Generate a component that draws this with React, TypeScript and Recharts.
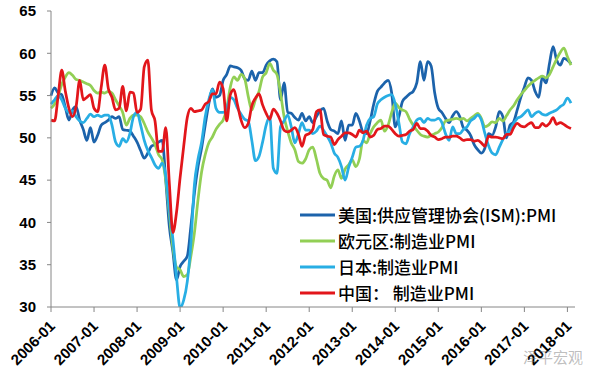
import React from "react";
import { LineChart, Line, XAxis, YAxis, Legend } from "recharts";

// 2006-01 .. 2018-02, monthly
const startYear = 2006;
const monthCount = 146;
const months: string[] = Array.from({ length: monthCount }, (_, i) => {
  const y = startYear + Math.floor(i / 12);
  const m = (i % 12) + 1;
  return `${y}-${m < 10 ? "0" + m : m}`;
});

const yearTicks = [
  "2006-01", "2007-01", "2008-01", "2009-01", "2010-01", "2011-01", "2012-01",
  "2013-01", "2014-01", "2015-01", "2016-01", "2017-01", "2018-01",
];
const yTicks = [30, 35, 40, 45, 50, 55, 60, 65];

const seriesNames = [
  "美国:供应管理协会(ISM):PMI",
  "欧元区:制造业PMI",
  "日本:制造业PMI",
  "中国： 制造业PMI",
];

// 美国:供应管理协会(ISM):PMI
const usIsm = [
  55.0, 55.9, 55.3, 55.1, 53.6, 52.1, 53.3, 53.7, 52.1, 51.0, 49.7, 51.2,
  49.5, 50.3, 51.5, 51.8, 52.1, 52.5, 52.3, 52.5, 51.0, 50.9, 50.8, 50.2,
  49.5, 48.5, 47.6, 48.2, 49.0, 49.2, 49.5, 49.7, 45.0, 39.5, 36.5, 33.2,
  34.8, 35.4, 36.0, 39.5, 43.5, 46.6, 48.8, 51.5, 54.0, 55.8, 54.8, 55.0,
  56.8, 57.5, 58.5, 58.4, 58.3, 58.0, 57.0, 56.8, 57.9, 56.8, 57.7, 57.7,
  58.6, 59.1, 59.3, 59.0, 54.5, 56.5, 53.0, 52.9, 52.4, 52.1, 52.9, 52.0,
  52.5, 51.8, 52.5, 53.2, 53.5, 52.0, 51.0, 50.8, 50.5, 52.0, 49.7, 51.5,
  51.5, 52.9, 52.0, 50.7, 50.5, 52.0, 54.0, 55.5, 56.0, 56.5, 56.8, 55.3,
  51.3, 52.5, 54.3, 54.8, 55.2, 55.5, 56.5, 59.0, 56.8, 59.0, 58.5, 55.3,
  53.5, 53.0, 52.3, 51.8, 52.6, 53.1, 52.5, 51.2, 50.9, 50.3, 49.2, 48.6,
  48.2, 48.8, 50.5, 50.3, 51.3, 53.1, 52.5, 50.0, 51.5, 51.9, 53.3, 54.8,
  56.0, 57.1, 56.8, 55.5, 54.8, 57.2, 56.5, 58.8, 60.8, 59.2, 58.6, 59.4,
  59.2, 58.8,
];

// 欧元区:制造业PMI
const euroMfg = [
  53.5, 54.0, 55.0, 56.3, 57.2, 57.7, 57.4, 56.9, 56.8, 56.6, 56.4, 56.2,
  55.6, 55.3, 55.4, 55.3, 55.5, 55.3, 54.5, 53.8, 53.0, 51.5, 52.3, 52.7,
  52.7, 52.5, 51.7, 50.7, 50.0, 49.2, 48.0, 47.4, 45.0, 41.1, 37.0, 34.7,
  34.4, 33.6, 33.8, 36.0, 38.8, 42.7, 46.0, 48.0, 49.4, 50.1, 51.0, 51.6,
  52.1, 53.5, 56.0, 57.2, 56.8, 57.5, 57.0, 54.9, 53.3, 54.5, 55.5, 57.2,
  57.7, 58.8, 58.0, 57.5, 55.3, 52.5, 50.8, 49.4, 48.6, 47.2, 47.0, 47.5,
  48.6, 48.9, 47.5, 45.8, 45.2, 45.0, 44.1, 45.5, 46.2, 45.2, 46.3, 46.8,
  47.4, 46.6, 47.5, 49.7, 49.4, 50.5, 51.3, 51.8, 52.1, 50.8, 51.5, 53.0,
  54.1, 53.6, 53.3, 53.1, 52.2, 51.5, 50.9, 50.4, 50.2, 50.1, 50.3, 50.5,
  50.7, 51.2, 52.0, 52.1, 52.2, 52.3, 52.2, 52.3, 52.0, 52.3, 52.6, 52.9,
  52.3, 51.3, 51.5, 51.9, 51.8, 52.3, 52.0, 52.6, 53.3, 53.8, 54.5, 55.1,
  55.6, 56.1, 56.5, 56.8, 57.1, 57.3, 57.1, 57.5, 58.4, 59.3, 60.1, 60.6,
  59.6, 58.6,
];

// 日本:制造业PMI
const japanMfg = [
  54.0, 54.5, 55.0, 54.5, 53.5, 53.0, 53.2, 52.5, 52.0, 51.8, 52.3, 52.8,
  52.5, 52.7, 52.5, 52.7, 52.7, 51.5, 49.5, 49.0, 49.9, 49.5, 50.5, 52.5,
  53.0, 51.5, 49.7, 48.5, 47.7, 46.8, 46.4, 47.0, 45.5, 41.5, 38.0, 33.5,
  29.9, 30.8, 33.0, 37.5, 44.5, 47.5, 49.5, 52.5, 54.5, 55.7, 53.5, 53.0,
  53.0, 53.5, 54.8, 54.5, 53.5, 52.8, 52.2, 52.0, 49.7, 47.3, 47.8, 49.5,
  51.5, 52.5, 46.4, 45.8, 51.3, 52.0, 52.7, 51.3, 49.4, 50.5, 51.8, 50.9,
  50.9, 50.5, 50.8, 51.4, 50.9, 50.2, 49.4, 48.2, 47.7, 46.6, 45.0, 46.5,
  47.7, 48.9, 49.0, 49.7, 51.5, 52.3, 52.5, 54.0, 54.5, 54.8, 55.0, 55.1,
  54.0, 51.8, 49.5, 49.3, 50.5, 51.3, 52.1, 52.3, 51.8, 52.3, 52.1, 52.1,
  52.3, 51.8, 50.5, 49.7, 51.3, 50.5, 50.5, 51.0, 51.3, 52.0, 52.3, 52.7,
  52.1, 50.5, 49.1, 48.2, 48.0, 48.9, 49.8, 50.5, 50.9, 51.7, 52.3, 52.5,
  52.9, 53.3, 52.5, 52.9, 53.1, 52.8, 52.7, 52.9, 53.1, 53.3, 53.7, 54.0,
  54.7, 54.1,
];

// 中国：制造业PMI
const chinaMfg = [
  52.1, 52.0, 55.0, 58.0, 55.5, 53.5, 52.5, 53.7, 56.8, 54.5, 54.8, 55.1,
  53.5, 53.1, 56.0, 58.6, 55.8, 54.8, 53.3, 53.5, 56.1, 53.2, 55.4, 55.3,
  53.0, 53.4, 58.4, 59.2, 53.3, 52.0, 48.4, 48.4, 51.2, 44.6, 38.8, 41.2,
  45.3, 49.0, 52.4, 53.5, 53.1, 53.2, 53.3, 54.0, 54.3, 55.2, 55.2, 56.6,
  55.8, 52.0, 55.1, 55.7, 53.9, 52.1, 51.2, 51.7, 53.8, 54.7, 55.2, 53.9,
  52.9, 52.2, 53.4, 52.9, 52.0, 50.9, 50.7, 50.9, 51.2, 50.4, 49.0, 50.3,
  50.5, 51.0, 53.1, 53.3, 50.4, 50.2, 50.1, 49.2, 49.8, 50.2, 50.6, 50.6,
  50.4, 50.1, 50.9, 50.6, 50.8, 50.1, 50.3, 51.0, 51.1, 51.4, 51.4, 51.0,
  50.5, 50.2, 50.3, 50.4, 50.8, 51.0, 51.7, 51.1, 51.1, 50.8, 50.3, 50.1,
  49.8, 49.9, 50.1, 50.1, 50.2, 50.2, 50.0, 49.7, 49.8, 49.8, 49.6, 49.7,
  49.4, 49.0, 50.2, 50.1, 50.1, 50.0, 49.9, 50.4, 50.4, 51.2, 51.7, 51.4,
  51.3, 51.6, 51.8, 51.2, 51.2, 51.7, 51.4, 51.7, 52.4, 51.6, 51.8, 51.6,
  51.3, 51.1,
];

const data = months.map((month, i) => ({
  month,
  us: usIsm[i],
  ez: euroMfg[i],
  jp: japanMfg[i],
  cn: chinaMfg[i],
}));

const axisFont = "'Liberation Sans', Arial, sans-serif";
const cjkFont = "'Noto Sans CJK SC', 'Noto Sans', sans-serif";

const XTick = (props: any) => {
  const { x, y, payload } = props;
  const tx = x + 5;
  const ty = y + 13;
  return (
    <text
      x={tx}
      y={ty}
      transform={`rotate(-45, ${tx}, ${ty})`}
      textAnchor="end"
      fontSize={15}
      fontWeight="bold"
      fontFamily={axisFont}
      fill="#000"
    >
      {payload.value}
    </text>
  );
};

const renderLegend = (props: any) => {
  const items = [...props.payload].sort(
    (a: any, b: any) => seriesNames.indexOf(a.value) - seriesNames.indexOf(b.value)
  );
  return (
    <div>
      {items.map((entry: any) => (
        <div
          key={entry.value}
          style={{ display: "flex", alignItems: "center", height: 26 }}
        >
          <svg width={38} height={6}>
            <line x1={0} y1={3} x2={35} y2={3} stroke={entry.color} strokeWidth={3} />
          </svg>
          <span
            style={{
              fontFamily: cjkFont,
              fontSize: 17,
              fontWeight: 500,
              color: "#000",
              whiteSpace: "nowrap",
              lineHeight: "26px",
            }}
          >
            {entry.value}
          </span>
        </div>
      ))}
    </div>
  );
};

export default function App() {
  return (
    <div
      style={{
        position: "absolute",
        left: 0,
        top: 0,
        width: 600,
        height: 383,
        background: "#fff",
      }}
    >
      <LineChart
        width={600}
        height={383}
        data={data}
        margin={{ top: 11, right: 25, left: 0, bottom: 0 }}
      >
        <XAxis
          dataKey="month"
          ticks={yearTicks}
          interval={0}
          height={76}
          tickSize={5}
          padding={{ left: 0, right: 4 }}
          axisLine={{ stroke: "#868686" }}
          tickLine={{ stroke: "#868686" }}
          tick={<XTick />}
        />
        <YAxis
          domain={[30, 65]}
          ticks={yTicks}
          interval={0}
          width={51}
          tickSize={4}
          tickMargin={11}
          allowDataOverflow
          axisLine={{ stroke: "#868686" }}
          tickLine={{ stroke: "#868686" }}
          tick={{ fill: "#000", fontSize: 15, fontWeight: "bold", fontFamily: axisFont }}
        />
        <Legend
          layout="vertical"
          align="center"
          verticalAlign="middle"
          wrapperStyle={{ left: 300, top: 202, width: "auto" }}
          content={renderLegend}
        />
        <Line
          type="monotone"
          dataKey="us"
          name={seriesNames[0]}
          stroke="#1c63ab"
          strokeWidth={2.75}
          dot={false}
          isAnimationActive={false}
        />
        <Line
          type="monotone"
          dataKey="ez"
          name={seriesNames[1]}
          stroke="#92cf55"
          strokeWidth={2.75}
          dot={false}
          isAnimationActive={false}
        />
        <Line
          type="monotone"
          dataKey="jp"
          name={seriesNames[2]}
          stroke="#28aee4"
          strokeWidth={2.75}
          dot={false}
          isAnimationActive={false}
        />
        <Line
          type="monotone"
          dataKey="cn"
          name={seriesNames[3]}
          stroke="#e2161b"
          strokeWidth={2.75}
          dot={false}
          isAnimationActive={false}
        />
      </LineChart>
      <div
        style={{
          position: "absolute",
          left: 523,
          top: 346,
          fontFamily: cjkFont,
          fontSize: 15,
          color: "rgba(110,110,110,0.45)",
          whiteSpace: "nowrap",
        }}
      >
        泽平宏观
      </div>
    </div>
  );
}
